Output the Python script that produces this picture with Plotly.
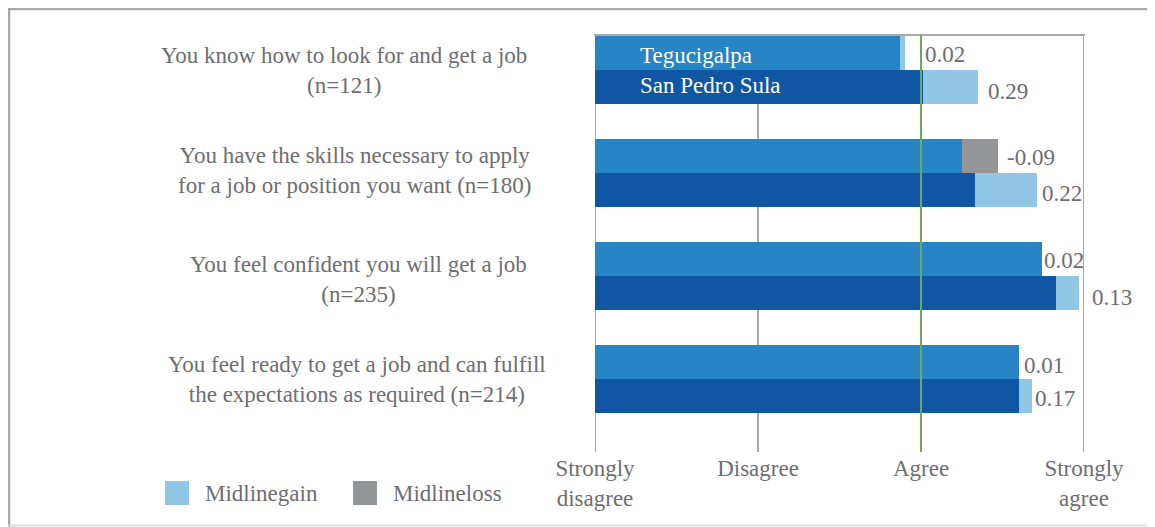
import plotly.graph_objects as go

# ---------------- data ----------------
categories = [
    "You know how to look for and get a job<br>(n=121)",
    "You have the skills necessary to apply<br>for a job or position you want (n=180)",
    "You feel confident you will get a job<br>(n=235)",
    "You feel ready to get a job and can fulfill<br>the expectations as required (n=214)",
]
cities = ["Tegucigalpa", "San Pedro Sula"]
# scale: 1 = Strongly disagree ... 4 = Strongly agree
teg_midline = [2.87, 3.47, 3.74, 3.60]
teg_endline = [2.90, 3.25, 3.74, 3.60]
sps_midline = [3.01, 3.33, 3.83, 3.60]
sps_endline = [3.35, 3.71, 3.97, 3.68]
teg_change_labels = ["0.02", "-0.09", "0.02", "0.01"]
sps_change_labels = ["0.29", "0.22", "0.13", "0.17"]
tick_values = [1, 2, 3, 4]
tick_labels = ["Strongly<br>disagree", "Disagree", "Agree", "Strongly<br>agree"]
legend_labels = ["Midlinegain", "Midlineloss"]

# ---------------- style ----------------
FONT = "Liberation Serif"
FS = 23
TXT = "#6d6e71"
C_TEG = "#2784c5"
C_SPS = "#0f57a2"
C_GAIN = "#92c6e5"
C_LOSS = "#939598"
C_GRID = "#a7a9ac"
C_GREEN = "#6aab5b"
OFFS = 8  # page body margin
W, H = 1155, 527 - OFFS
ML, MT = 595 - OFFS, 35 - OFFS
MR = W - (1084 - OFFS)
MB = H - (452 - OFFS)
PW, PH = W - ML - MR, H - MT - MB
BAR_W = 0.33
OFF = 0.165


def px(x):
    """reference-image pixel x -> paper coordinate"""
    return (x - OFFS - ML) / PW


def py(y):
    """reference-image pixel y -> paper coordinate"""
    return (H - MB - (y - OFFS)) / PH


groups = list(range(len(categories)))
fig = go.Figure()

series = [
    (teg_midline, teg_endline, C_TEG, -OFF),
    (sps_midline, sps_endline, C_SPS, OFF),
]
for mid, end, col, off in series:
    ys = [g + off for g in groups]
    lo = [min(m, e) for m, e in zip(mid, end)]
    hi = [max(m, e) for m, e in zip(mid, end)]
    fig.add_trace(go.Bar(
        orientation="h", y=ys, base=[1] * len(lo), x=[l - 1 for l in lo],
        width=BAR_W, marker=dict(color=col, line=dict(width=0)),
        showlegend=False, hoverinfo="skip"))
    fig.add_trace(go.Bar(
        orientation="h", y=ys, base=lo, x=[h - l for h, l in zip(hi, lo)],
        width=BAR_W,
        marker=dict(color=[C_GAIN if e >= m else C_LOSS for m, e in zip(mid, end)],
                    line=dict(width=0)),
        showlegend=False, hoverinfo="skip"))

annotations = []
# change labels
teg_xshift = [2, 7, 0, 3]
sps_xshift = [8, 3, 11, 1]
teg_yshift = [-1, -1, -1, -3]
sps_yshift = [-4, -3, -4, -3]
teg_anchor_x = [3.0, None, None, None]
for i, g in enumerate(groups):
    xa = teg_anchor_x[i] if teg_anchor_x[i] is not None else max(teg_midline[i], teg_endline[i])
    annotations.append(dict(
        x=xa, y=g - OFF, xref="x", yref="y", text=teg_change_labels[i],
        showarrow=False, xanchor="left", yanchor="middle",
        xshift=teg_xshift[i], yshift=teg_yshift[i],
        font=dict(family=FONT, size=FS, color=TXT)))
    annotations.append(dict(
        x=max(sps_midline[i], sps_endline[i]), y=g + OFF, xref="x", yref="y",
        text=sps_change_labels[i], showarrow=False, xanchor="left", yanchor="middle",
        xshift=sps_xshift[i], yshift=sps_yshift[i],
        font=dict(family=FONT, size=FS, color=TXT)))

# category labels
cat_x = [344, 354, 358, 357]
cat_yshift = [0, 3, -3, 0]
for i, g in enumerate(groups):
    annotations.append(dict(
        x=px(cat_x[i]), y=g, xref="paper", yref="y", text=categories[i],
        showarrow=False, xanchor="center", yanchor="middle", align="center",
        yshift=cat_yshift[i],
        font=dict(family=FONT, size=FS, color=TXT)))

# city labels inside first bars
for name, off, ysh in [(cities[0], -OFF, -2), (cities[1], OFF, 2)]:
    annotations.append(dict(
        x=px(638), y=groups[0] + off, xref="paper", yref="y", text=name,
        showarrow=False, xanchor="left", yanchor="middle", yshift=ysh,
        font=dict(family=FONT, size=FS, color="white")))

# legend
leg_cols = [C_GAIN, C_LOSS]
leg_sq_x = [165, 353]
shapes = []
for k, lab in enumerate(legend_labels):
    shapes.append(dict(type="rect", xref="paper", yref="paper",
                       x0=px(leg_sq_x[k]), x1=px(leg_sq_x[k] + 24),
                       y0=py(505), y1=py(481), fillcolor=leg_cols[k],
                       line=dict(width=0)))
    annotations.append(dict(
        x=px(leg_sq_x[k] + 38), y=py(493), xref="paper", yref="paper", text=lab,
        showarrow=False, xanchor="left", yanchor="middle",
        font=dict(family=FONT, size=FS, color=TXT)))

# outer frame (clamped to the drawable page area), plot box and scale lines
FRAME_T = max(5.5, OFFS + 1)
FRAME_L = max(7, OFFS + 1)
shapes += [
    dict(type="line", xref="paper", yref="paper", x0=px(FRAME_L - 1), x1=px(1170),
         y0=py(FRAME_T), y1=py(FRAME_T), line=dict(color=C_GRID, width=2.5)),
    dict(type="line", xref="paper", yref="paper", x0=px(FRAME_L), x1=px(FRAME_L),
         y0=py(FRAME_T - 1), y1=py(535), line=dict(color=C_GRID, width=2.5)),
    dict(type="line", xref="paper", yref="paper", x0=px(FRAME_L - 1), x1=px(1170),
         y0=py(525.5), y1=py(525.5), line=dict(color="#d4d4d4", width=1.5)),
    dict(type="line", xref="paper", yref="paper", x0=px(594), x1=px(1085),
         y0=1, y1=1, line=dict(color=C_GRID, width=2)),
    dict(type="line", xref="x", yref="paper", x0=1, x1=1, y0=0, y1=1,
         line=dict(color=C_GRID, width=2), layer="below"),
    dict(type="line", xref="x", yref="paper", x0=4, x1=4, y0=0, y1=1,
         line=dict(color=C_GRID, width=2), layer="below"),
    dict(type="line", xref="x", yref="paper", x0=3, x1=3, y0=0, y1=1,
         line=dict(color=C_GREEN, width=2), layer="above"),
]

fig.update_layout(
    width=W, height=H,
    margin=dict(l=ML, r=MR, t=MT, b=MB, pad=0),
    plot_bgcolor="white", paper_bgcolor="white",
    barmode="overlay", bargap=0,
    xaxis=dict(range=[1, 4], tickvals=tick_values, ticktext=tick_labels,
               showgrid=True, gridcolor=C_GRID, gridwidth=2, zeroline=False,
               showline=False, ticks="", ticklabelstandoff=0,
               tickfont=dict(family=FONT, size=FS, color=TXT), fixedrange=True),
    yaxis=dict(range=[(452 - 70) / 103, -35 / 103], showgrid=False,
               zeroline=False, showticklabels=False, showline=False,
               fixedrange=True),
    shapes=shapes, annotations=annotations, showlegend=False,
)

fig.write_html("out.html")
